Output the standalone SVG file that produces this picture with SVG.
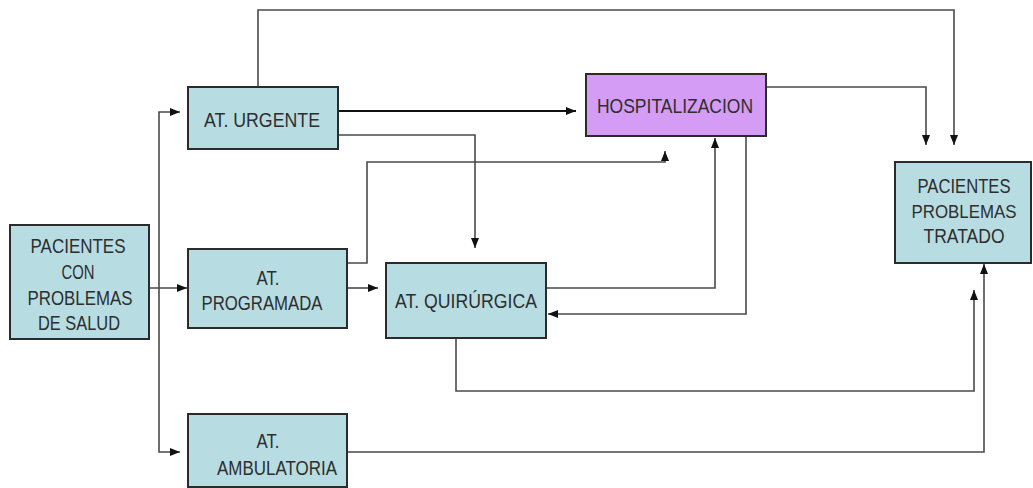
<svg xmlns="http://www.w3.org/2000/svg" width="1033" height="488" viewBox="0 0 1033 488">
<defs>
<marker id="ah" viewBox="0 0 10 8" refX="10" refY="4" markerWidth="10" markerHeight="8" markerUnits="userSpaceOnUse" orient="auto">
<path d="M0,0 L10,4 L0,8 z" fill="#111"/>
</marker>
</defs>
<style>
.box{fill:#b7dde2;stroke:#2b2b2b;stroke-width:2}
.hosp{fill:#d59cf5;stroke:#2b2b2b;stroke-width:2}
.lbl{font-family:"Liberation Sans",Arial,sans-serif;font-size:20px;fill:#2e2e2e;text-anchor:middle}
.sm{font-size:18px}
.c{fill:none;stroke:#4a4a4a;stroke-width:1.6;marker-end:url(#ah)}
.thick{stroke:#111;stroke-width:2.2}
</style>
<rect width="1033" height="488" fill="#ffffff"/>
<g id="connectors">
<path class="c" d="M258,87 V10 H954 V145"/>
<path class="c thick" d="M338,111 H576"/>
<path class="c" d="M338,135 H475 V248"/>
<path class="c" d="M347,263 H367 V162 H665 V151"/>
<path class="c" d="M149,288 H187"/>
<path class="c" d="M159,288 V112 H180"/>
<path class="c" d="M159,288 V452 H180"/>
<path class="c" d="M347,288 H378"/>
<path class="c" d="M546,288 H715 V138"/>
<path class="c" d="M746,136 V314 H548"/>
<path class="c" d="M766,87 H926 V145"/>
<path class="c" d="M456,338 V391 H974 V290"/>
<path class="c" d="M347,452 H984 V264"/>
</g>
<g id="pacientes-salud">
<rect class="box" x="10" y="225" width="139" height="114"/>
<text class="lbl" x="78" y="253" textLength="95" lengthAdjust="spacingAndGlyphs">PACIENTES</text>
<text class="lbl" x="78" y="279" textLength="33" lengthAdjust="spacingAndGlyphs">CON</text>
<text class="lbl" x="80" y="305" textLength="105" lengthAdjust="spacingAndGlyphs">PROBLEMAS</text>
<text class="lbl" x="79" y="330" textLength="82" lengthAdjust="spacingAndGlyphs">DE SALUD</text>
</g>
<g id="at-urgente">
<rect class="box" x="188" y="87" width="150" height="62"/>
<text class="lbl" x="262" y="127" textLength="116" lengthAdjust="spacingAndGlyphs">AT. URGENTE</text>
</g>
<g id="at-programada">
<rect class="box" x="188" y="249" width="159" height="79"/>
<text class="lbl" x="268" y="285" textLength="23" lengthAdjust="spacingAndGlyphs">AT.</text>
<text class="lbl" x="262" y="310" textLength="121" lengthAdjust="spacingAndGlyphs">PROGRAMADA</text>
</g>
<g id="at-quirurgica">
<rect class="box" x="386" y="263" width="160" height="75"/>
<text class="lbl" x="466" y="308" textLength="142" lengthAdjust="spacingAndGlyphs">AT. QUIRÚRGICA</text>
</g>
<g id="at-ambulatoria">
<rect class="box" x="188" y="414" width="159" height="73"/>
<text class="lbl" x="268" y="448" textLength="23" lengthAdjust="spacingAndGlyphs">AT.</text>
<text class="lbl" x="277" y="475" textLength="120" lengthAdjust="spacingAndGlyphs">AMBULATORIA</text>
</g>
<g id="hospitalizacion">
<rect class="hosp" x="586" y="74" width="180" height="62"/>
<text class="lbl" x="675" y="113" textLength="156" lengthAdjust="spacingAndGlyphs">HOSPITALIZACION</text>
</g>
<g id="pacientes-tratado">
<rect class="box" x="895" y="162" width="136" height="101"/>
<text class="lbl" x="964" y="193" textLength="93" lengthAdjust="spacingAndGlyphs">PACIENTES</text>
<text class="lbl sm" x="964" y="218" textLength="105" lengthAdjust="spacingAndGlyphs">PROBLEMAS</text>
<text class="lbl" x="964" y="243" textLength="81" lengthAdjust="spacingAndGlyphs">TRATADO</text>
</g>
</svg>
